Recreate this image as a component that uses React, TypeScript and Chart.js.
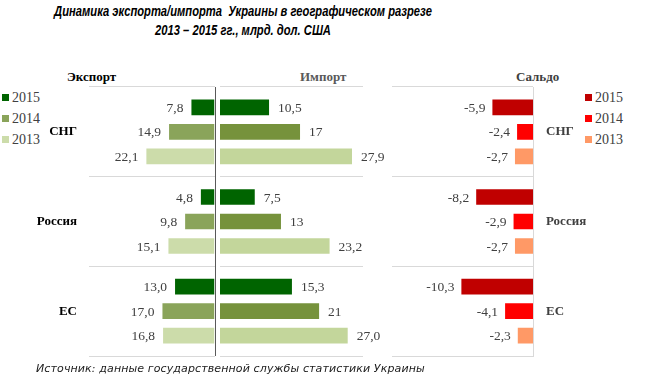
import React, { useEffect, useRef } from "react";
import { Chart, registerables } from "chart.js";

Chart.register(...registerables);

const categories = ["СНГ", "Россия", "ЕС"];
const years = ["2015", "2014", "2013"];

const export2015 = [7.8, 4.8, 13.0];
const export2014 = [14.9, 9.8, 17.0];
const export2013 = [22.1, 15.1, 16.8];

const import2015 = [10.5, 7.5, 15.3];
const import2014 = [17, 13, 21];
const import2013 = [27.9, 23.2, 27.0];
const importLabels2015 = ["10,5", "7,5", "15,3"];
const importLabels2014 = ["17", "13", "21"];
const importLabels2013 = ["27,9", "23,2", "27,0"];

const saldo2015 = [-5.9, -8.2, -10.3];
const saldo2014 = [-2.4, -2.9, -4.1];
const saldo2013 = [-2.7, -2.7, -2.3];

const exportColors = ["#006400", "#8AA45A", "#CCDCAA"];
const importColors = ["#006400", "#76923C", "#C3D69B"];
const saldoColors = ["#C00000", "#FF0000", "#FF9966"];

const SERIF = "'Liberation Serif', 'Times New Roman', serif";

const fmt = (v: number) => v.toFixed(1).replace(".", ",");

const labelPlugin = {
  id: "barLabels",
  afterDatasetsDraw(chart: any) {
    const ctx = chart.ctx;
    ctx.save();
    ctx.font = `13.5px ${SERIF}`;
    ctx.fillStyle = "#404040";
    ctx.textBaseline = "middle";
    chart.data.datasets.forEach((ds: any, di: number) => {
      const meta = chart.getDatasetMeta(di);
      meta.data.forEach((el: any, i: number) => {
        const text = ds.labels ? ds.labels[i] : fmt(ds.data[i]);
        const gap = ds.labelGap ?? 7;
        if (el.x < el.base) {
          ctx.textAlign = "right";
          ctx.fillText(text, el.x - gap, el.y + 1);
        } else {
          ctx.textAlign = "left";
          ctx.fillText(text, el.x + gap, el.y + 1);
        }
      });
    });
    ctx.restore();
  },
};

function barDs(label: string, data: number[], color: string, extra: any = {}) {
  return {
    label,
    data,
    backgroundColor: color,
    borderColor: "rgba(255,255,255,0.45)",
    borderWidth: 1,
    categoryPercentage: 0.82,
    barPercentage: 0.72,
    ...extra,
  };
}

function hiddenAxisHeight(scale: any) {
  scale.height = 0;
  scale.paddingLeft = 0;
  scale.paddingRight = 0;
}

function fixedWidth(w: number) {
  return (s: any) => {
    s.width = w;
    s.paddingTop = 0;
    s.paddingBottom = 0;
  };
}

function makeExport(canvas: HTMLCanvasElement) {
  return new Chart(canvas, {
    type: "bar",
    data: {
      labels: categories,
      datasets: [
        barDs(years[0], export2015, exportColors[0]),
        barDs(years[1], export2014, exportColors[1]),
        barDs(years[2], export2013, exportColors[2]),
      ] as any,
    },
    options: {
      indexAxis: "y",
      animation: false,
      responsive: false,
      layout: { padding: { top: 7, bottom: 6, left: 0, right: 5 } },
      plugins: { legend: { display: false }, tooltip: { enabled: false } },
      scales: {
        x: {
          reverse: true,
          min: 0,
          max: 40,
          ticks: { display: false, stepSize: 40 },
          border: { display: false },
          grid: {
            drawTicks: false,
            color: (c: any) => (c.tick && c.tick.value === 0 ? "#595959" : "rgba(0,0,0,0)"),
            lineWidth: 1,
          },
          afterFit: hiddenAxisHeight,
        },
        y: {
          position: "left",
          ticks: {
            padding: 12,
            color: "#000000",
            font: { family: SERIF, size: 13, weight: "bold" },
          },
          border: { display: false },
          grid: { drawTicks: false, color: "#D9D9D9", lineWidth: 1 },
          afterFit: fixedWidth(89),
        },
      },
    } as any,
    plugins: [labelPlugin],
  });
}

function makeImport(canvas: HTMLCanvasElement) {
  return new Chart(canvas, {
    type: "bar",
    data: {
      labels: categories,
      datasets: [
        barDs(years[0], import2015, importColors[0], { labels: importLabels2015, labelGap: 8 }),
        barDs(years[1], import2014, importColors[1], { labels: importLabels2014, labelGap: 8 }),
        barDs(years[2], import2013, importColors[2], { labels: importLabels2013, labelGap: 8 }),
      ] as any,
    },
    options: {
      indexAxis: "y",
      animation: false,
      responsive: false,
      layout: { padding: { top: 7, bottom: 6, left: 4, right: 33 } },
      plugins: { legend: { display: false }, tooltip: { enabled: false } },
      scales: {
        x: {
          min: 0,
          max: 30,
          ticks: { display: false, stepSize: 30 },
          border: { display: false },
          grid: { display: false },
          afterFit: hiddenAxisHeight,
        },
        y: {
          ticks: { display: false },
          border: { display: false },
          grid: { drawTicks: false, color: "#D9D9D9", lineWidth: 1 },
          afterFit: fixedWidth(0),
        },
      },
    } as any,
    plugins: [labelPlugin],
  });
}

function makeSaldo(canvas: HTMLCanvasElement) {
  return new Chart(canvas, {
    type: "bar",
    data: {
      labels: categories,
      datasets: [
        barDs(years[0], saldo2015, saldoColors[0], { labelGap: 6 }),
        barDs(years[1], saldo2014, saldoColors[1], { labelGap: 6 }),
        barDs(years[2], saldo2013, saldoColors[2], { labelGap: 6 }),
      ] as any,
    },
    options: {
      indexAxis: "y",
      animation: false,
      responsive: false,
      layout: { padding: { top: 7, bottom: 6, left: 12, right: 60 } },
      plugins: { legend: { display: false }, tooltip: { enabled: false } },
      scales: {
        x: {
          min: -20,
          max: 0,
          ticks: { display: false, stepSize: 20 },
          border: { display: false },
          grid: { display: false },
          afterFit: hiddenAxisHeight,
        },
        y: {
          position: "right",
          ticks: {
            padding: 13,
            color: "#404040",
            font: { family: SERIF, size: 13, weight: "bold" },
          },
          border: { display: true, color: "#D9D9D9", width: 1 },
          grid: { drawTicks: false, color: "#D9D9D9", lineWidth: 1 },
          afterFit: fixedWidth(70),
        },
      },
    } as any,
    plugins: [labelPlugin],
  });
}

const abs = (left: number, top: number, extra: any = {}): React.CSSProperties => ({
  position: "absolute",
  left,
  top,
  ...extra,
});

function Legend({ left, colors }: { left: number; colors: string[] }) {
  const rowsTop = [89, 110, 131];
  return (
    <>
      {years.map((y, i) => (
        <div
          key={y}
          style={abs(left, rowsTop[i], {
            height: 17,
            lineHeight: "17px",
            display: "flex",
            alignItems: "center",
            fontFamily: SERIF,
            fontSize: 14,
            color: "#404040",
            whiteSpace: "nowrap",
          })}
        >
          <span style={{ display: "inline-block", width: 7, height: 7, background: colors[i], marginRight: 3 }} />
          <span>{y}</span>
        </div>
      ))}
    </>
  );
}

export default function App() {
  const exRef = useRef<HTMLCanvasElement>(null);
  const imRef = useRef<HTMLCanvasElement>(null);
  const saRef = useRef<HTMLCanvasElement>(null);

  useEffect(() => {
    const charts = [
      makeExport(exRef.current!),
      makeImport(imRef.current!),
      makeSaldo(saRef.current!),
    ];
    return () => charts.forEach((c) => c.destroy());
  }, []);

  const header = (text: string, left: number, color: string) => (
    <div
      style={abs(left, 69, {
        fontFamily: SERIF,
        fontWeight: "bold",
        fontSize: 13,
        lineHeight: "16px",
        color,
        whiteSpace: "nowrap",
      })}
    >
      {text}
    </div>
  );

  const titleLine = (text: string, scale: number) => (
    <div style={{ transform: `scaleX(${scale})`, transformOrigin: "243px 50%", whiteSpace: "nowrap" }}>{text}</div>
  );

  return (
    <div
      style={{
        position: "absolute",
        left: 0,
        top: 0,
        width: 663,
        height: 384,
        background: "#fff",
        overflow: "hidden",
      }}
    >
      <div
        style={abs(0, 2, {
          width: 486,
          textAlign: "center",
          fontFamily: "'Liberation Sans', Arial, sans-serif",
          fontWeight: "bold",
          fontStyle: "italic",
          fontSize: 14,
          lineHeight: "19px",
          color: "#000",
        })}
      >
        {titleLine("Динамика экспорта/импорта\u00a0 Украины в географическом разрезе", 0.8)}
        {titleLine("2013 – 2015 гг., млрд. дол. США", 0.8)}
      </div>

      {header("Экспорт", 67, "#000000")}
      {header("Импорт", 300, "#595959")}
      {header("Сальдо", 516, "#404040")}

      <Legend left={2} colors={exportColors} />
      <Legend left={585} colors={saldoColors} />

      <canvas ref={exRef} width={220} height={282} style={abs(0, 80, { width: 220, height: 282 })} />
      <canvas ref={imRef} width={180} height={282} style={abs(216, 80, { width: 180, height: 282 })} />
      <canvas ref={saRef} width={283} height={282} style={abs(380, 80, { width: 283, height: 282 })} />

      <div
        style={abs(36, 361, {
          fontFamily: "'DejaVu Sans', Verdana, sans-serif",
          fontStyle: "italic",
          fontSize: 11,
          letterSpacing: "0.12px",
          lineHeight: "16px",
          color: "#1a1a1a",
          whiteSpace: "nowrap",
        })}
      >
        Источник: данные государственной службы статистики Украины
      </div>
    </div>
  );
}
